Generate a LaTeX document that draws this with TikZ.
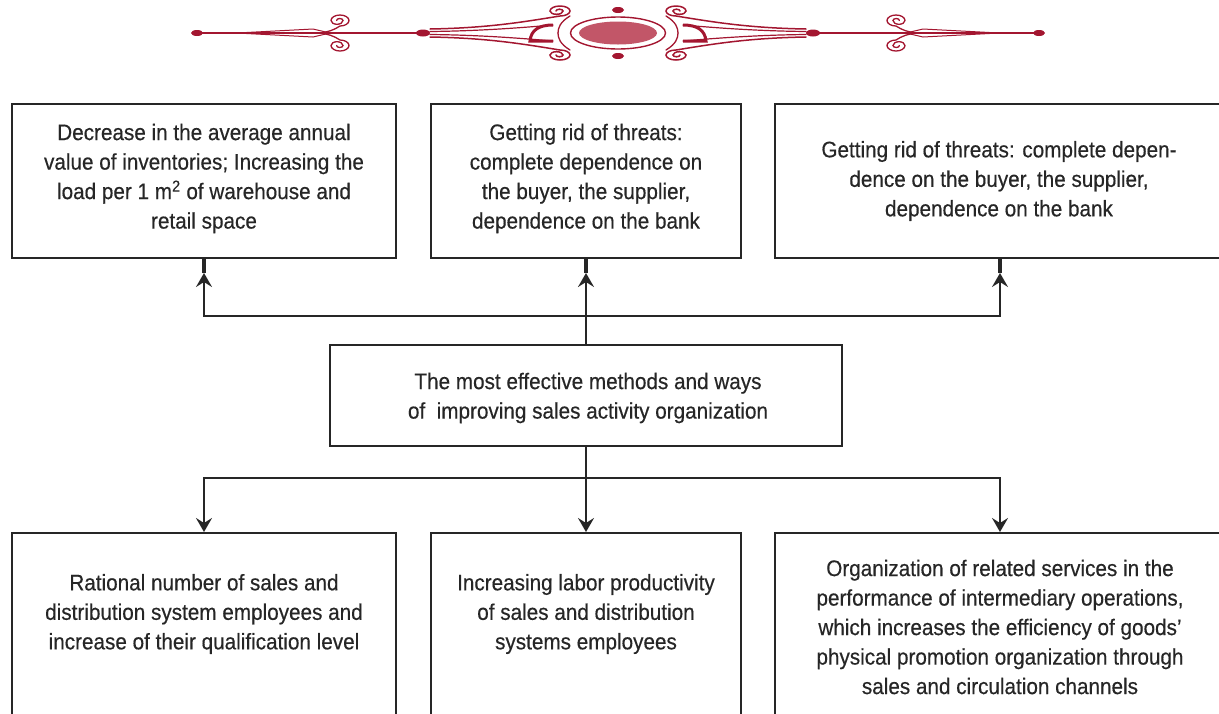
\documentclass[tikz,border=0pt]{standalone}
\usepackage{fontspec}
\setmainfont{Liberation Sans}[FakeStretch=0.92,FakeBold=0.4]
\usetikzlibrary{arrows.meta}
\definecolor{orn}{RGB}{163,22,48}
\definecolor{ornfill}{RGB}{194,86,104}
\definecolor{ink}{RGB}{38,38,38}

\begin{document}
\begin{tikzpicture}[x=1pt,y=-1pt,
  panel/.style 2 args={draw=ink,line width=2pt,minimum width=#1,minimum height=#2,inner sep=0pt},
  txt/.style={align=center,text=ink,font=\fontsize{22.5}{29.5}\selectfont,inner sep=0pt},
  wire/.style={draw=ink,line width=2pt},
  tip/.style={-{Stealth[length=14pt,width=16pt,inset=5pt]}},
  stub/.style={draw=ink,line width=3.6pt},
  ornline/.style={draw=orn,line width=1.5pt,line cap=round},
  ornthin/.style={draw=orn,line width=1pt}]

\useasboundingbox (0,0) rectangle (1219,713);
\clip (0,0) rectangle (1219,713);

% ---- ornament ----
\begin{scope}[shift={(618,33)}]
  \foreach \s in {1,-1}{
    \begin{scope}[xscale=\s]
      \fill[orn] (-421,0) ellipse[x radius=6,y radius=3];
      \fill[orn] (-195,0) ellipse[x radius=7,y radius=3.5];
      \draw[ornline,line width=2pt] (-421,0) -- (-195,0);
      \draw[ornthin] (-381,0) -- (-305,-4) -- (-288,0) -- (-305,4) -- cycle;
      \foreach \t in {1,-1}{
        \begin{scope}[yscale=\t]
          % small curl on the stem
          \draw[ornline,line width=1.3pt] (-298,0) .. controls (-290,-1) and (-284,-3) .. (-278,-7)
            arc[start angle=90,end angle=-180,x radius=9,y radius=5.5]
            arc[start angle=180,end angle=0,x radius=6,y radius=3.8]
            arc[start angle=0,end angle=-180,x radius=3.2,y radius=2];
          % flaring horn lines ending in curls
          \draw[ornline] (-188,-4) .. controls (-130,-5) and (-95,-11) .. (-58,-17)
            arc[start angle=90,end angle=-180,x radius=10,y radius=5]
            arc[start angle=180,end angle=0,x radius=6.5,y radius=3.3]
            arc[start angle=0,end angle=-180,x radius=3.5,y radius=1.8];
          \draw[ornline,line width=1.2pt] (-188,-1.5) .. controls (-140,-2) and (-100,-5) .. (-65,-8);
          % side arc around the ring
          \draw[ornline,line width=1.3pt] (-48,-17) .. controls (-58,-11) and (-60,-5) .. (-60,0);
        \end{scope}}
      % thick C-shaped bracket
      \draw[orn,line width=3pt] (-65,-8) .. controls (-79,-8) and (-87,-3) .. (-88,8) -- (-65,8);
    \end{scope}}
  \draw[orn,line width=1.4pt] (0,0) ellipse[x radius=47.5,y radius=16];
  \fill[ornfill] (0,0) ellipse[x radius=39,y radius=11.5];
  \fill[orn] (0,-23) ellipse[x radius=6,y radius=3];
  \fill[orn] (0,23) ellipse[x radius=6,y radius=3];
\end{scope}

% ---- boxes ----
\node[panel={384pt}{154pt}] (b1) at (204,181) {};
\node[panel={310pt}{154pt}] (b2) at (586,181) {};
\node[panel={450pt}{154pt}] (b3) at (1000,181) {};
\node[panel={512pt}{101pt}] (c)  at (586,395.5) {};
\node[panel={384pt}{227pt}] (b4) at (204,646.5) {};
\node[panel={310pt}{227pt}] (b5) at (586,646.5) {};
\node[panel={450pt}{227pt}] (b6) at (1000,646.5) {};

% ---- texts ----
\node[txt] (t1) at (204,178.5) {Decrease in the average annual\\value of inventories; Increasing the\\load per 1 m\textsuperscript{2} of warehouse and\\retail space};
\node[txt] (t2) at (586,178.5) {Getting rid of threats:\\complete dependence on\\the buyer, the supplier,\\dependence on the bank};
\node[txt] (t3) at (999,181) {Getting rid of threats: complete depen-\\dence on the buyer, the supplier,\\dependence on the bank};
\node[txt] (tc) at (588,398) {The most effective methods and ways\\of\ \ improving sales activity organization};
\node[txt] (t4) at (204,614) {Rational number of sales and\\distribution system employees and\\increase of their qualification level};
\node[txt] (t5) at (586,614) {Increasing labor productivity\\of sales and distribution\\systems employees};
\node[txt] (t6) at (1000,627) {Organization of related services in the\\performance of intermediary operations,\\which increases the efficiency of goods'\\physical promotion organization through\\sales and circulation channels};

% ---- connectors ----
\coordinate (ju) at (586,316);
\coordinate (jd) at (586,478);
\coordinate (a1) at ([yshift=-14pt]b1.south);
\coordinate (a2) at ([yshift=-14pt]b2.south);
\coordinate (a3) at ([yshift=-14pt]b3.south);

\draw[wire,tip] (c.north) -- (a2);
\draw[wire,tip] (ju) -| (a1);
\draw[wire,tip] (ju) -| (a3);
\draw[stub] (a1) -- (b1.south);
\draw[stub] (a2) -- (b2.south);
\draw[stub] (a3) -- (b3.south);

\draw[wire] (c.south) -- (jd);
\draw[wire,tip] (jd) -- (b5.north);
\draw[wire,tip] (jd) -| (b4.north);
\draw[wire,tip] (jd) -| (b6.north);
\end{tikzpicture}
\end{document}
